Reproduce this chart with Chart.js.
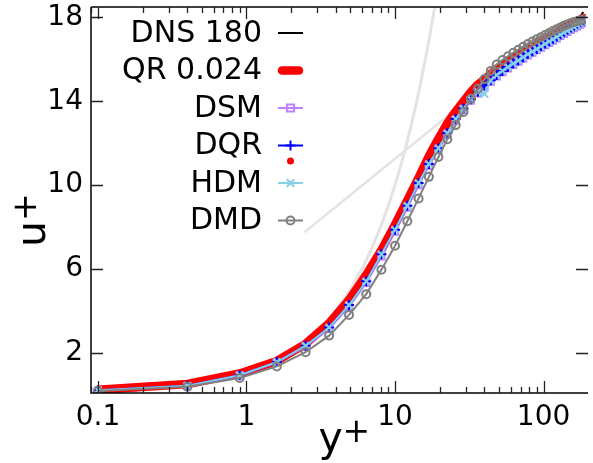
<!DOCTYPE html>
<html><head><meta charset="utf-8">
<style>html,body{margin:0;padding:0;background:#fff;overflow:hidden}#wrap{width:593px;height:463px;position:relative}canvas{display:block}</style>
<script src="https://cdn.jsdelivr.net/npm/chart.js@4.4.0/dist/chart.umd.min.js"></script>
</head><body><div id="wrap"><canvas id="c" width="593" height="463"></canvas></div>
<script>
// wall distance of the LES / DNS points (y+)
const yPlus = [0.1,0.4,0.9,1.6,2.5,3.6,4.9,6.4,8.1,10,12.1,14.4,16.9,19.6,22.5,25.6,28.9,32.4,36.1,40,44.1,48.4,52.9,57.6,62.5,67.6,72.9,78.4,84.1,90,96.1,102.4,108.9,115.6,122.5,129.6,136.9,144.4,152.1,160,168.1,176.4,184.9];
const dns180 = [0.1,0.4,0.9,1.6,2.5,3.5,4.65,5.85,7.0,8.2,9.35,10.45,11.4,12.2,12.95,13.5,13.95,14.4,14.75,15.05,15.3,15.55,15.75,15.95,16.12,16.28,16.43,16.58,16.72,16.85,16.97,17.09,17.2,17.31,17.42,17.52,17.6,17.68,17.75,17.82,17.9,18.02,18.26];
const qr0024 = [0.22,0.5,1.0,1.6,2.42,3.4,4.52,5.72,6.9,8.12,9.28,10.35,11.38,12.22,12.95,13.52,14.0,14.45,14.8,15.05,15.3,15.55,15.75,15.93,16.1,16.25,16.4,16.55,16.67,16.79,16.9,17.0,17.1,17.2,17.3,17.4,17.5,17.58,17.66,17.74,17.82,17.9,17.98];
const dsm = [0.19,0.4,0.9,1.52,2.28,3.14,4.2,5.33,6.6,7.78,8.92,10.0,10.92,11.68,12.4,13.08,13.58,14.03,14.38,14.68,14.94,15.19,15.39,15.57,15.74,15.89,16.04,16.19,16.32,16.44,16.56,16.68,16.79,16.9,17.01,17.12,17.22,17.32,17.41,17.5,17.58,17.66,17.74];
const dqr = [0.2,0.42,0.92,1.55,2.33,3.2,4.27,5.4,6.69,7.87,9.01,10.1,11.0,11.76,12.47,13.15,13.65,14.1,14.45,14.75,15.0,15.25,15.45,15.63,15.8,15.95,16.1,16.25,16.38,16.5,16.62,16.74,16.85,16.96,17.07,17.18,17.28,17.38,17.47,17.56,17.64,17.72,17.8];
const hdm = [0.2,0.42,0.92,1.55,2.33,3.2,4.27,5.4,6.69,7.87,9.01,10.1,11.0,11.76,12.47,13.15,13.65,14.1,14.45,14.35,15.0,15.25,15.45,15.63,15.8,15.95,16.1,16.25,16.38,16.5,16.62,16.74,16.85,16.96,17.07,17.18,17.28,17.38,17.47,17.56,17.64,17.72,17.8];
const dmd = [0.16,0.37,0.79,1.34,2.02,2.81,3.8,4.79,5.96,7.1,8.27,9.36,10.39,11.34,12.19,12.86,13.49,14.12,14.6,15.06,15.45,15.75,15.97,16.15,16.31,16.46,16.6,16.73,16.85,16.96,17.06,17.16,17.26,17.35,17.44,17.52,17.6,17.67,17.73,17.78,17.82,17.86,17.9];
// reference laws
const viscYPlus = [0.1,0.3,1,2,3,4,5,6,7,8,9,10,11,12,13,14,15,16,17,18,19];
const viscUPlus = [0.1,0.3,1,2,3,4,5,6,7,8,9,10,11,12,13,14,15,16,17,18,19];
const logYPlus = [2.45,30];
const logUPlus = [7.74,14.0];
// ticks
const xTickValues = [0.1,1,10,100];
const xTickLabels = ['0.1','1','10','100'];
const yTickValues = [2,6,10,14,18];

const FONT = "'DejaVu Sans', Verdana, sans-serif";
const pts = (xs, ys) => xs.map((x, i) => ({x: x, y: ys[i]}));

const series = [
  {label:'DNS 180', data: pts(yPlus, dns180), borderColor:'#000000', borderWidth:2, pointStyle:false, order:6},
  {label:'QR 0.024', data: pts(yPlus, qr0024), borderColor:'#ff0000', borderWidth:8.5, pointStyle:false, order:5, borderCapStyle:'round', borderJoinStyle:'round'},
  {label:'DSM', data: pts(yPlus, dsm), borderColor:'#c080ff', borderWidth:2, pointStyle:'rect', pointRadius:4.5, order:4},
  {label:'DQR', data: pts(yPlus, dqr), borderColor:'#0000ff', borderWidth:2, pointStyle:'cross', pointRadius:5, order:3},
  {label:'HDM', data: pts(yPlus, hdm), borderColor:'#87ceeb', borderWidth:2, pointStyle:'crossRot', pointRadius:5, order:2},
  {label:'DMD', data: pts(yPlus, dmd), borderColor:'#808080', borderWidth:2, pointStyle:'circle', pointRadius:4, order:1}
];
const datasets = series.map(s => Object.assign({
  showLine:true, fill:false, tension:0, backgroundColor:'rgba(0,0,0,0)',
  pointBorderColor:s.borderColor, pointBackgroundColor:'rgba(0,0,0,0)', pointBorderWidth:2,
  pointRadius: s.pointRadius || 0, isSeries:true
}, s));
datasets.push({label:'viscous', data: pts(viscYPlus, viscUPlus), borderColor:'#e3e3e3', borderWidth:3, pointRadius:0, showLine:true, tension:0, order:20, clip:0});
datasets.push({label:'log law', data: pts(logYPlus, logUPlus), borderColor:'#e3e3e3', borderWidth:2.5, pointRadius:0, showLine:true, tension:0, order:21, clip:0});

function drawMarker(ctx, style, x, y, r, color) {
  ctx.save(); ctx.strokeStyle = color; ctx.lineWidth = 2; ctx.beginPath();
  if (style === 'rect') { const h = r * 0.8; ctx.rect(x - h, y - h, 2 * h, 2 * h); }
  else if (style === 'cross') { ctx.moveTo(x - r, y); ctx.lineTo(x + r, y); ctx.moveTo(x, y - r); ctx.lineTo(x, y + r); }
  else if (style === 'crossRot') { const h = r * 0.75; ctx.moveTo(x - h, y - h); ctx.lineTo(x + h, y + h); ctx.moveTo(x - h, y + h); ctx.lineTo(x + h, y - h); }
  else if (style === 'circle') { ctx.arc(x, y, r, 0, Math.PI * 2); }
  ctx.stroke(); ctx.restore();
}

const framePlugin = {
  id:'frame',
  afterDatasetsDraw(chart) {
    const {ctx, chartArea:a, scales:{x, y}} = chart;
    ctx.save();
    ctx.strokeStyle = '#000'; ctx.lineWidth = 1.5;
    ctx.beginPath();
    ctx.moveTo(a.left, a.top); ctx.lineTo(a.left, a.bottom); ctx.lineTo(a.right + 2, a.bottom);
    ctx.moveTo(a.left, a.top); ctx.lineTo(a.right + 2, a.top);
    ctx.stroke();
    ctx.strokeStyle = '#222'; ctx.lineWidth = 1.3;
    ctx.beginPath();
    for (let e = -2; e <= 3; e++) {
      for (let k = 1; k <= 9; k++) {
        const v = k * Math.pow(10, e);
        if (v < x.min || v > x.max) continue;
        const px = Math.round(x.getPixelForValue(v)) + 0.5;
        const len = k === 1 ? 12 : 6;
        ctx.moveTo(px, a.bottom); ctx.lineTo(px, a.bottom - len);
        ctx.moveTo(px, a.top); ctx.lineTo(px, a.top + len);
      }
    }
    yTickValues.forEach(v => {
      const py = Math.round(y.getPixelForValue(v)) + 0.5;
      ctx.moveTo(a.left, py); ctx.lineTo(a.left + 12, py);
      ctx.moveTo(a.right + 2, py); ctx.lineTo(a.right - 10, py);
    });
    ctx.stroke();
    ctx.restore();
  },
  afterDraw(chart) {
    const ctx = chart.ctx;
    ctx.save();
    ctx.fillStyle = '#000';
    // axis titles
    ctx.textBaseline = 'alphabetic'; ctx.textAlign = 'left';
    ctx.font = '41px ' + FONT; ctx.fillText('y', 318.5, 451);
    ctx.font = '33px ' + FONT; ctx.fillText('+', 342.5, 442);
    ctx.save();
    ctx.translate(45, 247); ctx.rotate(-Math.PI / 2);
    ctx.font = '41px ' + FONT; ctx.fillText('u', 0, 0);
    ctx.font = '33px ' + FONT; ctx.fillText('+', 26, -9);
    ctx.restore();
    // legend
    const items = chart.data.datasets.filter(d => d.isSeries);
    const x0 = 262, s0 = 278, s1 = 303;
    items.forEach((d, i) => {
      const yy = 33 + i * 37.5;
      ctx.font = '30px ' + FONT; ctx.textAlign = 'right'; ctx.textBaseline = 'middle';
      ctx.fillStyle = '#000';
      ctx.fillText(d.label, x0, yy + 1);
      ctx.save();
      ctx.strokeStyle = d.borderColor; ctx.lineWidth = d.borderWidth;
      ctx.lineCap = d.borderWidth > 4 ? 'round' : 'butt';
      ctx.beginPath(); ctx.moveTo(s0 + (d.borderWidth > 4 ? 4 : 0), yy); ctx.lineTo(s1 - (d.borderWidth > 4 ? 4 : 0), yy); ctx.stroke();
      ctx.restore();
      if (d.pointStyle) drawMarker(ctx, d.pointStyle, (s0 + s1) / 2, yy, d.pointRadius, d.borderColor);
      if (d.label === 'DQR') {
        ctx.fillStyle = '#ff0000'; ctx.beginPath(); ctx.arc((s0 + s1) / 2, yy + 15.5, 3.5, 0, Math.PI * 2); ctx.fill();
      }
    });
    ctx.restore();
  }
};

const zeroPad = s => { s.paddingLeft = 0; s.paddingRight = 0; s.paddingTop = 0; s.paddingBottom = 0; };

new Chart(document.getElementById('c'), {
  type:'scatter',
  data:{datasets: datasets},
  options:{
    responsive:false, animation:false, devicePixelRatio:1,
    layout:{padding:{top:2, left:0, right:0, bottom:0}},
    plugins:{legend:{display:false}, tooltip:{enabled:false}},
    elements:{line:{tension:0}},
    scales:{
      x:{type:'logarithmic', min:0.0898, max:193,
        grid:{display:false, drawTicks:false}, border:{display:false},
        ticks:{color:'#000', font:{family:FONT, size:28}, padding:8, maxRotation:0, autoSkip:false,
          callback:(v, i) => xTickLabels[i]},
        afterBuildTicks:s => { s.ticks = xTickValues.map(v => ({value:v})); },
        afterFit:s => { s.height = 70; zeroPad(s); }
      },
      y:{type:'linear', min:0.07, max:18.5,
        grid:{display:false, drawTicks:false}, border:{display:false},
        ticks:{color:'#000', font:{family:FONT, size:28}, padding:8, autoSkip:false},
        afterBuildTicks:s => { s.ticks = yTickValues.map(v => ({value:v})); },
        afterFit:s => { s.width = 91; zeroPad(s); }
      }
    }
  },
  plugins:[framePlugin]
});
</script></body></html>
